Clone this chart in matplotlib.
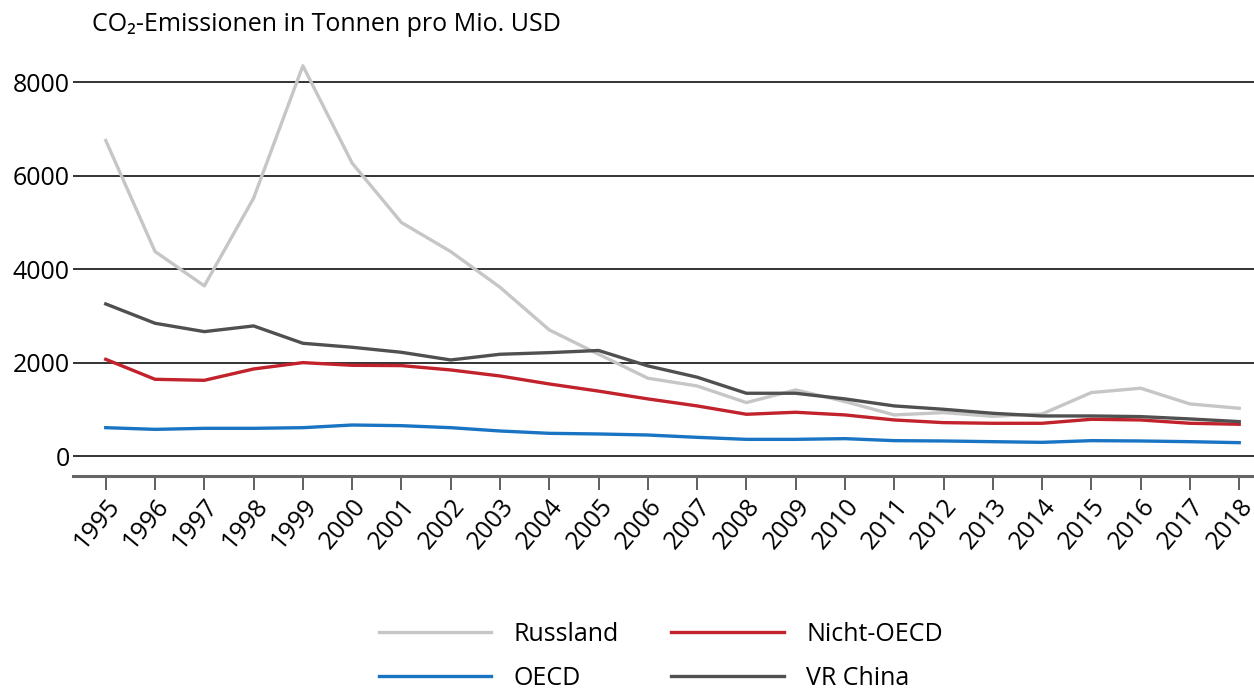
import numpy as np
import matplotlib
matplotlib.use("Agg")
import matplotlib.pyplot as plt

plt.rcParams['font.family'] = ['Open Sans', 'DejaVu Sans']

# Jahre und Reihen (CO2-Emissionen in Tonnen pro Mio. USD)
years = list(range(1995, 2019))
russland = [6757, 4380, 3643, 5522, 8357, 6272, 5000, 4378, 3614, 2700, 2180, 1666,
            1500, 1144, 1416, 1166, 880, 930, 850, 901, 1359, 1452, 1115, 1023]
nicht_oecd = [2071, 1643, 1621, 1864, 2000, 1943, 1936, 1843, 1714, 1543, 1390, 1223,
              1073, 894, 937, 880, 772, 715, 701, 701, 787, 772, 701, 680]
oecd = [607, 571, 593, 593, 607, 664, 650, 607, 536, 486, 472, 450,
        400, 357, 357, 372, 329, 322, 307, 293, 329, 322, 307, 286]
china = [3257, 2843, 2664, 2786, 2414, 2329, 2221, 2057, 2179, 2214, 2260, 1930,
         1688, 1344, 1344, 1223, 1073, 1001, 915, 858, 858, 844, 794, 737]
yticks = [0, 2000, 4000, 6000, 8000]

fs = 18
fig = plt.figure(figsize=(12.54, 6.89), dpi=100)
ax = fig.add_axes([0.058, 0.309, 0.942, 0.612])

lw = 2.4
l_ru, = ax.plot(years, russland, color="#c6c6c6", lw=lw, label="Russland")
l_oe, = ax.plot(years, oecd, color="#1a74c4", lw=lw, label="OECD")
l_no, = ax.plot(years, nicht_oecd, color="#c1222b", lw=lw, label="Nicht-OECD")
l_cn, = ax.plot(years, china, color="#505050", lw=lw, label="VR China")

ax.set_xlim(1994.33, 2018.3)
ax.set_ylim(-430, 8600)
ax.set_yticks(yticks)
ax.set_yticklabels([str(v) for v in yticks], fontsize=fs)
ax.yaxis.grid(True, color="#333333", lw=1.4)
ax.set_axisbelow(True)
ax.tick_params(axis="y", length=0, pad=2)

ax.set_xticks(years)
ax.set_xticklabels([str(y) for y in years], rotation=50, ha="right",
                   rotation_mode="anchor", fontsize=fs)
ax.tick_params(axis="x", length=10, width=1.2, color="#444444", pad=3)

for s in ["top", "right", "left"]:
    ax.spines[s].set_visible(False)
ax.spines["bottom"].set_color("#666666")
ax.spines["bottom"].set_linewidth(2.2)

fig.text(0.073, 0.965, "CO₂-Emissionen in Tonnen pro Mio. USD", fontsize=fs,
         ha="left", va="center")

fig.legend(handles=[l_ru, l_oe, l_no, l_cn], ncol=2, loc="center",
           bbox_to_anchor=(0.527, 0.047), frameon=False, fontsize=fs,
           handlelength=4.5, columnspacing=2.1, labelspacing=0.75,
           handletextpad=0.9)

fig.savefig("out.png", dpi=100)
